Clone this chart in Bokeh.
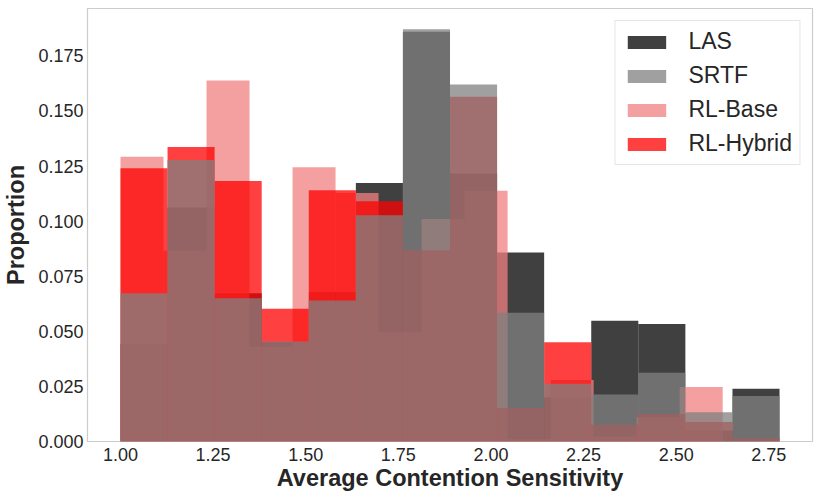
import numpy as np
from bokeh.plotting import figure
from bokeh.models import Range1d, Legend, LegendItem, FixedTicker, PrintfTickFormatter
from bokeh.embed import file_html
from bokeh.resources import INLINE

# ---- data ----
series_names = ["LAS", "SRTF", "RL-Base", "RL-Hybrid"]
n_bins = 14
main_range = (1.0, 2.779)     # LAS, SRTF, RL-Hybrid histogram range
base_range = (1.0, 2.6256)    # RL-Base histogram range

las = [0.0442, 0.1062, 0.0673, 0.0450, 0.0678, 0.1173, 0.1860,
       0.1216, 0.0858, 0.0200, 0.0548, 0.0533, 0.0050, 0.0239]
srtf = [0.0673, 0.1277, 0.0650, 0.0454, 0.0640, 0.1027, 0.1871,
        0.1620, 0.0584, 0.0262, 0.0213, 0.0312, 0.0133, 0.0206]
rl_hybrid = [0.1240, 0.1336, 0.1182, 0.0602, 0.1140, 0.1090, 0.0868,
             0.1565, 0.0152, 0.0450, 0.0076, 0.0125, 0.0088, 0.0015]
rl_base = [0.1292, 0.0867, 0.1638, 0.0430, 0.1245, 0.1128, 0.0496,
           0.1010, 0.1138, 0.0010, 0.0279, 0.0023, 0.0110, 0.0247]

x_ticks = [1.00, 1.25, 1.50, 1.75, 2.00, 2.25, 2.50, 2.75]
y_ticks = [0.000, 0.025, 0.050, 0.075, 0.100, 0.125, 0.150, 0.175]

colors = {"LAS": "black", "SRTF": "gray", "RL-Base": "lightcoral", "RL-Hybrid": "red"}

edges_main = np.linspace(main_range[0], main_range[1], n_bins + 1)
edges_base = np.linspace(base_range[0], base_range[1], n_bins + 1)

FONT = "Liberation Sans"
TXT = "#262626"

p = figure(width=822, height=500, output_backend="svg", toolbar_location=None,
           x_range=Range1d(0.911, 2.868), y_range=Range1d(0, 0.1965),
           min_border_left=86, min_border_right=10, min_border_top=8, min_border_bottom=59)

def hist(edges, vals, name):
    return p.quad(left=edges[:-1], right=edges[1:], bottom=0, top=vals,
                  fill_color=colors[name], fill_alpha=0.75, line_color=None)

r_las = hist(edges_main, las, "LAS")
r_base = hist(edges_base, rl_base, "RL-Base")
r_hyb = hist(edges_main, rl_hybrid, "RL-Hybrid")
r_srtf = hist(edges_main, srtf, "SRTF")

rmap = {"LAS": r_las, "SRTF": r_srtf, "RL-Base": r_base, "RL-Hybrid": r_hyb}
legend = Legend(items=[LegendItem(label=n, renderers=[rmap[n]]) for n in series_names],
                location="top_right")
legend.margin = 12
legend.padding = 7
legend.spacing = 7
legend.glyph_width = 48
legend.glyph_height = 16
legend.label_height = 24
legend.label_standoff = 18
legend.label_text_font = FONT
legend.label_text_font_size = "23px"
legend.label_text_color = TXT
legend.border_line_color = "#cccccc"
legend.border_line_width = 1
legend.background_fill_alpha = 0.8
p.add_layout(legend)

p.xgrid.visible = False
p.ygrid.visible = False
p.outline_line_color = "#cccccc"
p.outline_line_width = 1.2

p.xaxis.ticker = FixedTicker(ticks=x_ticks)
p.yaxis.ticker = FixedTicker(ticks=y_ticks)
p.xaxis.formatter = PrintfTickFormatter(format="%.2f")
p.yaxis.formatter = PrintfTickFormatter(format="%.3f")

for ax in (p.xaxis[0], p.yaxis[0]):
    ax.axis_line_color = None
    ax.major_tick_line_color = None
    ax.minor_tick_line_color = None
    ax.major_tick_out = 0
    ax.major_tick_in = 0
    ax.major_label_text_font = FONT
    ax.major_label_text_font_size = "18px"
    ax.major_label_text_color = TXT
    ax.axis_label_text_font = FONT
    ax.axis_label_text_font_size = "23.5px"
    ax.axis_label_text_font_style = "bold"
    ax.axis_label_text_color = TXT

p.xaxis.axis_label = "Average Contention Sensitivity"
p.yaxis.axis_label = "Proportion"
p.xaxis.major_label_standoff = 6
p.yaxis.major_label_standoff = 4
p.xaxis.axis_label_standoff = 1
p.yaxis.axis_label_standoff = 6

open("out.html", "w").write(file_html(p, INLINE))
